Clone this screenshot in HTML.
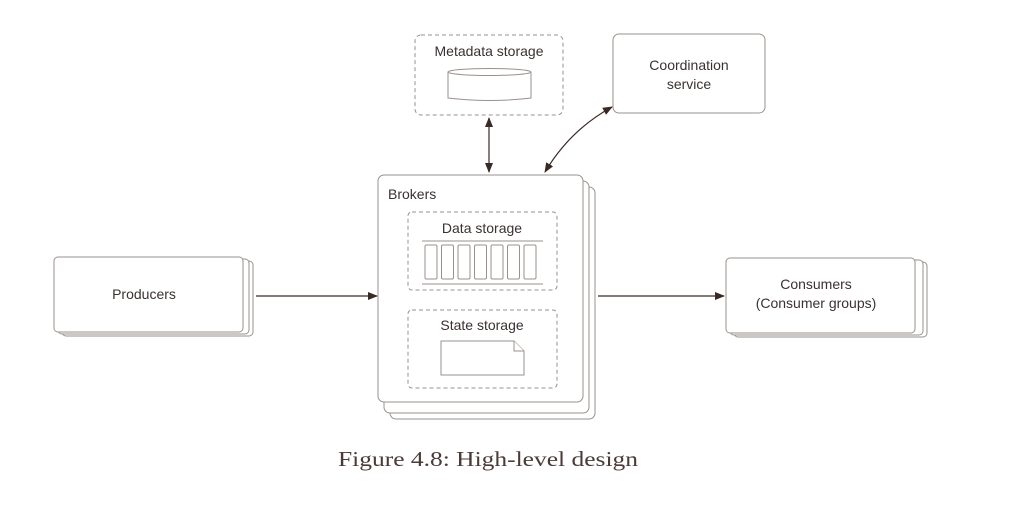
<!DOCTYPE html>
<html><head><meta charset="utf-8"><style>
html,body{margin:0;padding:0;background:#fff;}
svg{display:block;}
text{font-family:"Liberation Sans",sans-serif;fill:#3a3230;}
</style></head><body>
<svg width="1010" height="508" viewBox="0 0 1010 508" xmlns="http://www.w3.org/2000/svg">
<defs>
<marker id="ah" markerWidth="10" markerHeight="8" refX="9" refY="4" orient="auto-start-reverse" markerUnits="userSpaceOnUse">
<path d="M0,0 L10,4 L0,8 z" fill="#3a2a26"/></marker>
</defs>
<g fill="#fff" stroke="#9a918c" stroke-width="1">
<!-- Metadata storage -->
<rect x="415" y="35" width="148" height="80" rx="6" stroke-dasharray="4,3"/>
<path d="M448,72 L448,98 Q490,103 531,98 L531,72"/>
<ellipse cx="489.5" cy="72" rx="41.5" ry="3.5"/>
<!-- Coordination -->
<rect x="613" y="34" width="152" height="79" rx="6"/>
<!-- Brokers stack -->
<rect x="390" y="187" width="205" height="232" rx="6"/>
<rect x="384" y="181" width="205" height="232" rx="6"/>
<rect x="378" y="175" width="205" height="227" rx="6"/>
<rect x="408" y="212" width="149" height="78" rx="4" stroke-dasharray="4,3"/>
<rect x="408" y="310" width="149" height="78" rx="4" stroke-dasharray="4,3"/>
<line x1="422" y1="241" x2="543" y2="241"/>
<line x1="422" y1="284" x2="543" y2="284"/>
<rect x="425" y="245" width="12" height="34" rx="1.5"/>
<rect x="441.5" y="245" width="12" height="34" rx="1.5"/>
<rect x="458" y="245" width="12" height="34" rx="1.5"/>
<rect x="474.5" y="245" width="12" height="34" rx="1.5"/>
<rect x="491" y="245" width="12" height="34" rx="1.5"/>
<rect x="507.5" y="245" width="12" height="34" rx="1.5"/>
<rect x="524" y="245" width="12" height="34" rx="1.5"/>
<path d="M441,341 L514,341 L524,351 L524,375 L441,375 Z"/>
<path d="M514,341 L514,351 L524,351"/>
<!-- Producers -->
<rect x="62" y="261" width="191" height="75" rx="4"/>
<rect x="58" y="259" width="191" height="75" rx="4"/>
<rect x="54" y="257" width="189" height="75" rx="4"/>
<!-- Consumers -->
<rect x="734" y="262" width="193" height="75" rx="4"/>
<rect x="730" y="260" width="193" height="75" rx="4"/>
<rect x="726" y="258" width="189" height="75" rx="4"/>
</g>
<g stroke="#3a2a26" stroke-width="1.2" fill="none">
<line x1="489" y1="118" x2="489" y2="172" marker-start="url(#ah)" marker-end="url(#ah)"/>
<path d="M545,172 Q570,130 612,107" marker-start="url(#ah)" marker-end="url(#ah)"/>
<line x1="256" y1="296" x2="377" y2="296" marker-end="url(#ah)"/>
<line x1="598" y1="296" x2="724" y2="296" marker-end="url(#ah)"/>
</g>
<text x="489" y="56" font-size="14" text-anchor="middle">Metadata storage</text>
<text x="689" y="70" font-size="14" text-anchor="middle">Coordination</text>
<text x="689" y="89" font-size="14" text-anchor="middle">service</text>
<text x="388" y="199" font-size="14">Brokers</text>
<text x="482" y="233" font-size="14" text-anchor="middle">Data storage</text>
<text x="482" y="330" font-size="14" text-anchor="middle">State storage</text>
<text x="144" y="299" font-size="14" text-anchor="middle">Producers</text>
<text x="816" y="289" font-size="14" text-anchor="middle">Consumers</text>
<text x="816" y="308" font-size="14" text-anchor="middle">(Consumer groups)</text>
<text x="338" y="466" font-size="21" textLength="300" lengthAdjust="spacingAndGlyphs" style="font-family:'Liberation Serif',serif;fill:#4a3a38">Figure 4.8: High-level design</text>
</svg>
</body></html>
